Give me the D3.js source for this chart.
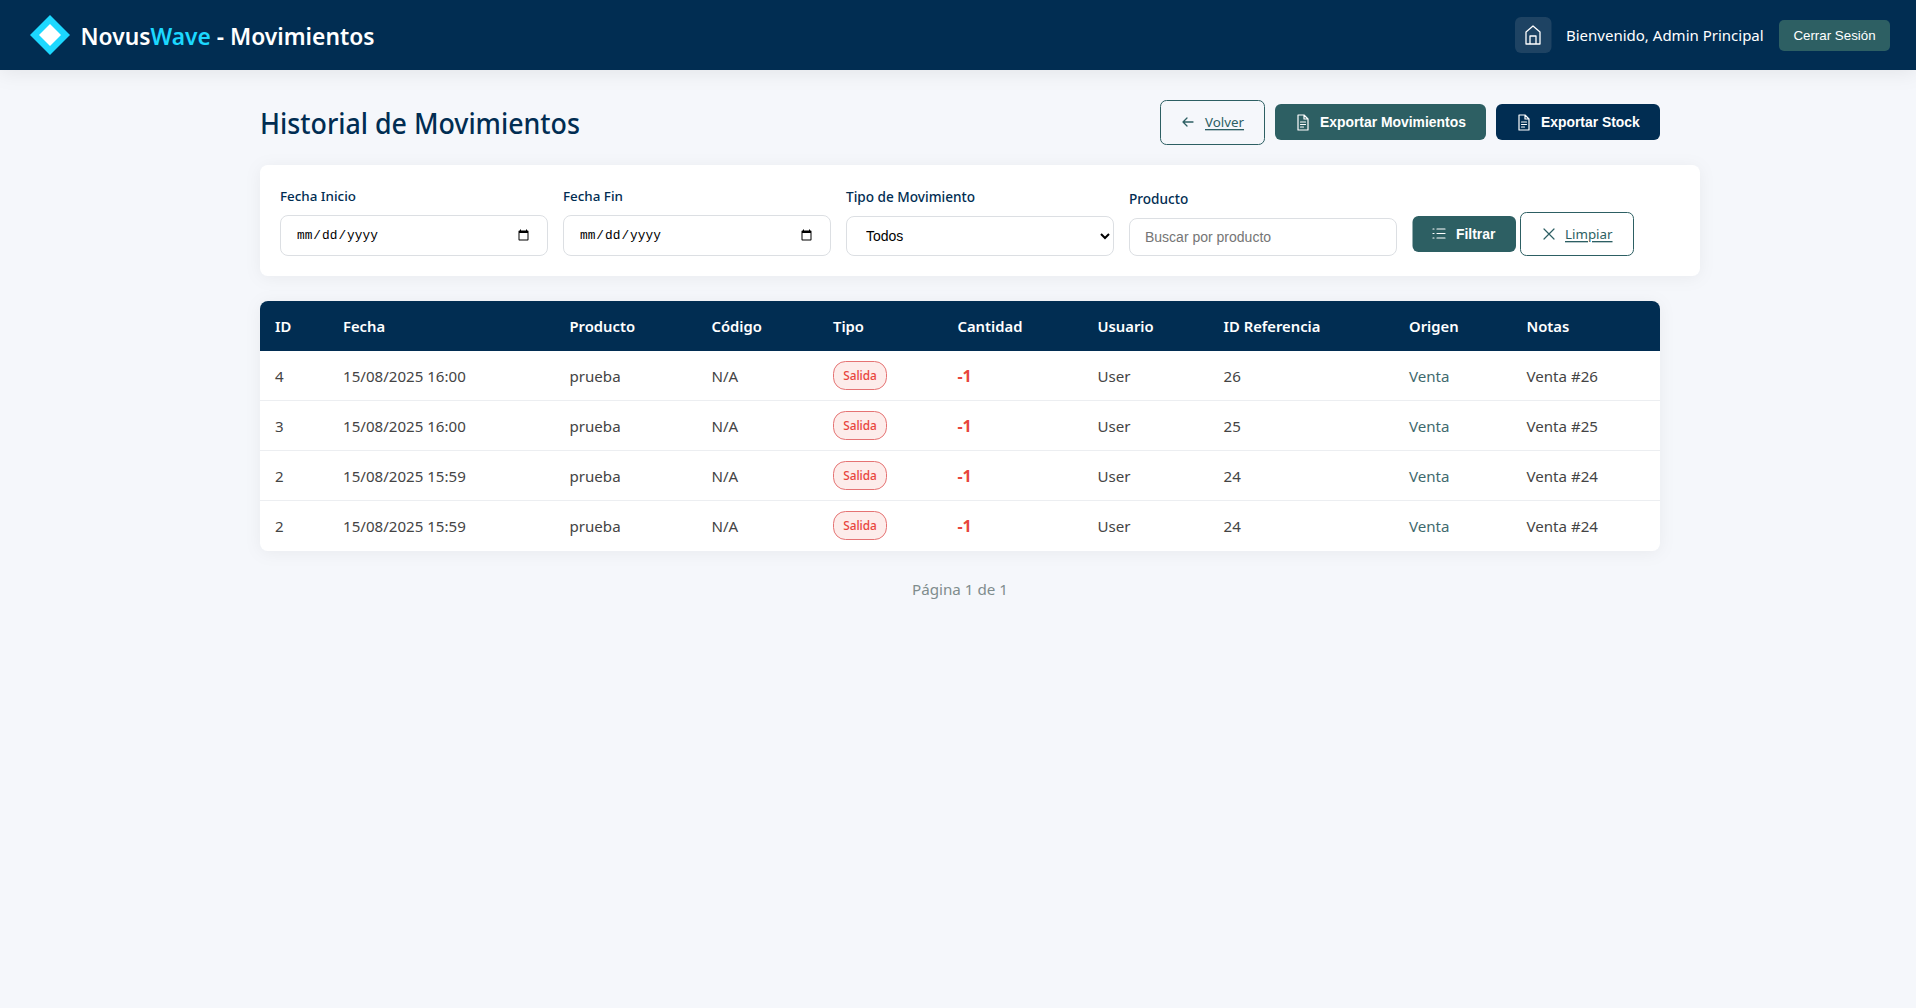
<!DOCTYPE html>
<html lang="es">
<head>
<meta charset="utf-8">
<title>NovusWave - Movimientos</title>
<script src="https://cdn.jsdelivr.net/npm/d3@7"></script>
<style>
  html, body { margin: 0; padding: 0; background: #f5f7fb; overflow: hidden; }
  svg { display: block; font-family: "Noto Sans", sans-serif; }
  foreignObject input, foreignObject select {
    box-sizing: border-box; width: 100%; height: 100%; margin: 0;
    background: #fff; border: 1px solid #dcdfe3; border-radius: 8px; outline: none;
    font-family: "Liberation Sans", sans-serif; font-size: 14px; color: #000;
  }
  foreignObject input[type=date] { padding: 0 15px; font-family: "Liberation Mono", monospace; font-size: 12.8px; }
  foreignObject input[type=text] { padding: 0 15px; }
  foreignObject input::placeholder { color: #757575; opacity: 1; }
  foreignObject select { padding: 0 0 0 15px; }
</style>
</head>
<body>
<script>
var columnas = ['ID', 'Fecha', 'Producto', 'Código', 'Tipo', 'Cantidad', 'Usuario', 'ID Referencia', 'Origen', 'Notas'];
var ids = ['4', '3', '2', '2'];
var fechas = ['15/08/2025 16:00', '15/08/2025 16:00', '15/08/2025 15:59', '15/08/2025 15:59'];
var productos = ['prueba', 'prueba', 'prueba', 'prueba'];
var codigos = ['N/A', 'N/A', 'N/A', 'N/A'];
var tipos = ['Salida', 'Salida', 'Salida', 'Salida'];
var cantidades = [-1, -1, -1, -1];
var usuarios = ['User', 'User', 'User', 'User'];
var referencias = ['26', '25', '24', '24'];
var origenes = ['Venta', 'Venta', 'Venta', 'Venta'];
var notas = ['Venta #26', 'Venta #25', 'Venta #24', 'Venta #24'];

var navy = '#012d52', teal = '#2d5f63', rojo = '#e8453c';

var svg = d3.select('body').append('svg').attr('width', 1916).attr('height', 1008);

// column and row scales for the table
var colX = d3.scaleOrdinal().domain(columnas)
  .range([275, 343, 569.5, 711.5, 833, 957.5, 1097.5, 1223.5, 1409, 1526.5]);
var rowY = d3.scaleBand().domain(d3.range(ids.length)).range([351, 551]);

function caja(x, y, w, h, r, fill, stroke) {
  return svg.append('rect').attr('x', x).attr('y', y).attr('width', w).attr('height', h)
    .attr('rx', r).attr('fill', fill).attr('stroke', stroke || 'none');
}

function texto(x, y, t, size, weight, color, family) {
  return svg.append('text').attr('x', x).attr('y', y).attr('dominant-baseline', 'central')
    .attr('font-size', size).attr('font-weight', weight).attr('fill', color)
    .attr('font-family', family || null).text(t);
}

function icono(x, y, d, color, width) {
  return svg.append('path').attr('transform', 'translate(' + x + ',' + y + ')').attr('d', d)
    .attr('fill', 'none').attr('stroke', color).attr('stroke-width', width || 1.2)
    .attr('stroke-linecap', 'round').attr('stroke-linejoin', 'round');
}

// navbar
svg.append('rect').attr('width', 1916).attr('height', 70).attr('fill', navy)
  .style('filter', 'drop-shadow(0 2px 10px rgba(0,0,0,.08))');
svg.append('path').attr('d', 'M50,15L70,35L50,55L30,35Z').attr('fill', '#1cd8ff');
svg.append('path').attr('d', 'M50,24L61,35L50,46L39,35Z').attr('fill', '#fff');
var marca = texto(80.5, 36, 'Novus', 22.8, 600, '#fff');
marca.append('tspan').attr('fill', '#1cd8ff').text('Wave');
marca.append('tspan').text(' - Movimientos');

caja(1515, 17, 36.5, 36, 6, '#1e4363');
icono(1525, 26, 'M8,0L1,6V18H15V6ZM5,18V10H11V18', '#fff', 1.3);
texto(1566, 35, 'Bienvenido, Admin Principal', 15, 400, '#fff');
caja(1779, 20, 111, 31, 5, teal);
texto(1834.5, 35, 'Cerrar Sesión', 13.33, 400, '#fff', 'Liberation Sans').attr('text-anchor', 'middle');

// page title and actions
texto(260, 123, 'Historial de Movimientos', 28, 500, navy)
  .attr('textLength', 320).attr('lengthAdjust', 'spacingAndGlyphs');

caja(1160.5, 100.5, 104, 44, 6, 'none', teal);
icono(1183, 122, 'M10,0H0M4,-4L0,0L4,4', teal, 1.3);
texto(1205, 122, 'Volver', 13.33, 400, teal).attr('text-decoration', 'underline');

var docIcon = 'M1,0H7L11,4V15H1ZM7,0V4H11M3.5,7H8.5M3.5,9.5H8.5M3.5,12H6.5';
caja(1275, 104, 211, 36, 6, teal);
icono(1297, 115, docIcon, '#fff');
texto(1320, 122, 'Exportar Movimientos', 13.9, 700, '#fff', 'Liberation Sans');
caja(1496, 104, 164, 36, 6, navy);
icono(1518, 115, docIcon, '#fff');
texto(1541, 122, 'Exportar Stock', 13.9, 700, '#fff', 'Liberation Sans');

// filter card
caja(260, 165, 1440, 111, 8, '#fff').style('filter', 'drop-shadow(0 2px 8px rgba(0,0,0,.05))');
texto(280, 195.5, 'Fecha Inicio', 13.4, 500, navy);
texto(563, 195.5, 'Fecha Fin', 13.4, 500, navy);
texto(846, 196.5, 'Tipo de Movimiento', 13.6, 500, navy);
texto(1129, 198.5, 'Producto', 13.6, 500, navy);

function campo(x, y, w, h) {
  return svg.append('foreignObject').attr('x', x).attr('y', y).attr('width', w).attr('height', h);
}
campo(280, 215, 268, 41).append('xhtml:input').attr('type', 'date');
campo(563, 215, 268, 41).append('xhtml:input').attr('type', 'date');
campo(846, 216, 268, 40).append('xhtml:select').append('xhtml:option').text('Todos');
campo(1129, 218, 268, 38).append('xhtml:input').attr('type', 'text').attr('placeholder', 'Buscar por producto');

caja(1412.5, 216, 103.5, 36, 6, teal);
icono(1433, 229, 'M4,0H12M4,4.5H12M4,9H12M0,0H1M0,4.5H1M0,9H1', '#fff');
texto(1456, 234, 'Filtrar', 13.9, 700, '#fff', 'Liberation Sans');
caja(1520.5, 212.5, 113, 43, 6, '#fff', teal);
icono(1544, 229, 'M0,0L10,10M10,0L0,10', teal);
texto(1565, 234, 'Limpiar', 13.33, 400, teal).attr('text-decoration', 'underline');

// table
caja(260, 301, 1400, 250, 8, '#fff').style('filter', 'drop-shadow(0 2px 8px rgba(0,0,0,.05))');
svg.append('path').attr('d', 'M260,351V309a8,8 0 0 1 8,-8H1652a8,8 0 0 1 8,8V351Z').attr('fill', navy);

svg.selectAll('text.cabecera').data(columnas).enter().append('text')
  .attr('class', 'cabecera')
  .attr('x', function(d) { return colX(d); })
  .attr('y', 325.5)
  .attr('dominant-baseline', 'central')
  .attr('font-size', 14.8).attr('font-weight', 600).attr('fill', '#fff')
  .text(function(d) { return d; });

var filas = svg.selectAll('g.fila').data(d3.range(ids.length)).enter().append('g')
  .attr('class', 'fila')
  .attr('transform', function(i) { return 'translate(0,' + rowY(i) + ')'; });

filas.filter(function(i) { return i < ids.length - 1; }).append('line')
  .attr('x1', 260).attr('x2', 1660)
  .attr('y1', rowY.bandwidth() - 0.5).attr('y2', rowY.bandwidth() - 0.5)
  .attr('stroke', '#eceef1');

var celdas = [
  ['ID', ids, '#444'], ['Fecha', fechas, '#444'], ['Producto', productos, '#444'],
  ['Código', codigos, '#444'], ['Usuario', usuarios, '#444'], ['ID Referencia', referencias, '#444'],
  ['Origen', origenes, '#3f6a6e'], ['Notas', notas, '#444']
];
celdas.forEach(function(c) {
  filas.append('text')
    .attr('x', colX(c[0])).attr('y', rowY.bandwidth() / 2)
    .attr('dominant-baseline', 'central')
    .attr('font-size', 15.1).attr('fill', c[2])
    .text(function(i) { return c[1][i]; });
});

filas.append('text')
  .attr('x', colX('Cantidad')).attr('y', rowY.bandwidth() / 2)
  .attr('dominant-baseline', 'central')
  .attr('font-size', 16).attr('font-weight', 700).attr('fill', rojo)
  .text(function(i) { return cantidades[i]; });

// tipo badges
filas.append('rect')
  .attr('x', colX('Tipo') + 0.5).attr('y', 10.5).attr('width', 53).attr('height', 28).attr('rx', 12)
  .attr('fill', '#fdecea').attr('stroke', '#e57373');
filas.append('text')
  .attr('x', colX('Tipo') + 27).attr('y', 24)
  .attr('text-anchor', 'middle').attr('dominant-baseline', 'central')
  .attr('font-size', 11.8).attr('font-weight', 500).attr('fill', rojo)
  .text(function(i) { return tipos[i]; });

texto(960, 589, 'Página 1 de 1', 15.2, 400, '#7f8c8d').attr('text-anchor', 'middle');
</script>
</body>
</html>
